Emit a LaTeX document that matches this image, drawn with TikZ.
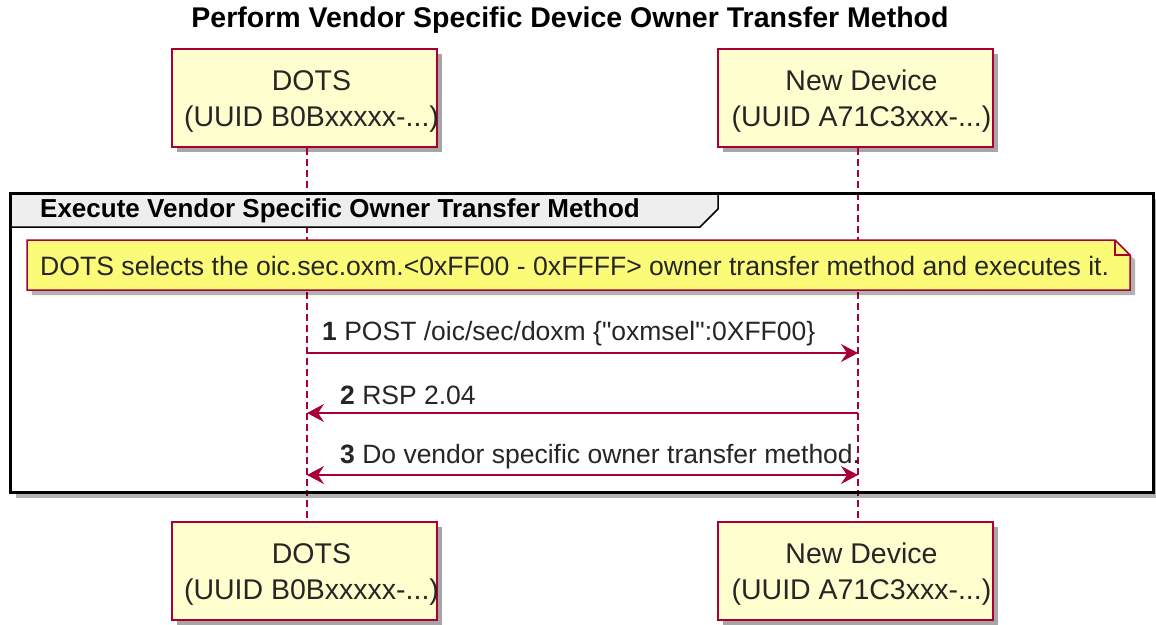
\documentclass[tikz,border=0pt]{standalone}
\usepackage{fontspec}
\setmainfont{Liberation Sans}[Ligatures=TeXOff]
\usetikzlibrary{arrows.meta,shadows}
\definecolor{pborder}{HTML}{A80036}
\definecolor{pfill}{HTML}{FEFECE}
\definecolor{nfill}{HTML}{FBFB77}
\definecolor{gfill}{HTML}{EEEEEE}
\tikzset{
  participant/.style={draw=pborder, line width=1.5pt, fill=pfill, minimum height=98pt, inner sep=0pt,
    drop shadow={shadow xshift=5pt, shadow yshift=-5pt, opacity=0.35, fill=black}},
  ptext/.style={align=center, inner sep=0pt, font=\fontsize{28.5}{36}\selectfont, text=black!85},
  lifeline/.style={draw=pborder, line width=1.1pt, dash pattern=on 7pt off 4pt},
  msg/.style={draw=pborder, line width=1.5pt, -{Stealth[length=17pt,width=18pt,inset=6pt]}},
  msgboth/.style={draw=pborder, line width=1.5pt, {Stealth[length=17pt,width=18pt,inset=6pt]}-{Stealth[length=17pt,width=18pt,inset=6pt]}},
  msglabel/.style={anchor=west, inner sep=0pt, font=\fontsize{26.5}{30}\selectfont, text=black!85},
  notebox/.style={draw=pborder, line width=1.5pt, fill=nfill},
  frame/.style={draw=black, line width=3pt},
}
\begin{document}
\begin{tikzpicture}[x=1pt, y=-1pt]
\useasboundingbox (0,0) rectangle (1156,624);
% title
\node[font=\bfseries\fontsize{28.5}{32}\selectfont] (title) at (570,20) {Perform Vendor Specific Device Owner Transfer Method};
% participants
\node[participant, minimum width=265pt] (dots) at (304.5,98) {};
\node[participant, minimum width=275pt] (dev) at (855.5,98) {};
\node[participant, minimum width=265pt] (dotsb) at (304.5,571) {};
\node[participant, minimum width=275pt] (devb) at (855.5,571) {};
\node[ptext] (dotst) at ([xshift=7pt,yshift=-3pt]dots.center) {DOTS\\(UUID B0Bxxxxx-...)};
\node[ptext] (devt) at ([xshift=6pt,yshift=-3pt]dev.center) {New Device\\(UUID A71C3xxx-...)};
\node[ptext] (dotsbt) at ([xshift=7pt,yshift=-3pt]dotsb.center) {DOTS\\(UUID B0Bxxxxx-...)};
\node[ptext] (devbt) at ([xshift=6pt,yshift=-3pt]devb.center) {New Device\\(UUID A71C3xxx-...)};
% lifelines
\draw[lifeline] (dots.south -| 307,0) -- (dotsb.north -| 307,0);
\draw[lifeline] (dev.south -| 858,0) -- (devb.north -| 858,0);
% group frame
\fill[black, opacity=0.3] (16,199) rectangle (1159,498);
\fill[white] (10,193) rectangle (1153,492);
\draw[lifeline] (307,193) -- (307,492);
\draw[lifeline] (858,193) -- (858,492);
\filldraw[fill=gfill, draw=black, line width=1.5pt] (10,193) -- (718,193) -- (718,209) -- (700,227) -- (10,227) -- cycle;
\node[anchor=west, inner sep=0pt, font=\bfseries\fontsize{26}{30}\selectfont] (gtitle) at (40,211) {Execute Vendor Specific Owner Transfer Method};
\draw[frame] (10,193) rectangle (1153,492);
% note
\fill[black, opacity=0.3] (32,245) -- (1120,245) -- (1135,260) -- (1135,295) -- (32,295) -- cycle;
\draw[notebox] (27,240) -- (1115,240) -- (1130,255) -- (1130,290) -- (27,290) -- cycle;
\draw[draw=pborder, line width=1.5pt] (1115,240) -- (1115,255) -- (1130,255);
\node[anchor=west, inner sep=0pt, font=\fontsize{26.6}{30}\selectfont, text=black!85] (note) at (40,266) {DOTS selects the oic.sec.oxm.<0xFF00 - 0xFFFF> owner transfer method and executes it.};
% messages
\coordinate (m1s) at (307,353); \coordinate (m1e) at (858,353);
\coordinate (m2s) at (858,413); \coordinate (m2e) at (307,413);
\coordinate (m3s) at (307,475); \coordinate (m3e) at (858,475);
\draw[msg] (m1s) -- (m1e);
\node[msglabel] (l1) at (322,334) {\textbf{1} POST /oic/sec/doxm \{"oxmsel":0XFF00\}};
\draw[msg] (m2s) -- (m2e);
\node[msglabel] (l2) at (340,395) {\textbf{2} RSP 2.04};
\draw[msgboth] (m3s) -- (m3e);
\node[msglabel] (l3) at (340,457) {\textbf{3} Do vendor specific owner transfer method.};
\end{tikzpicture}
\end{document}
